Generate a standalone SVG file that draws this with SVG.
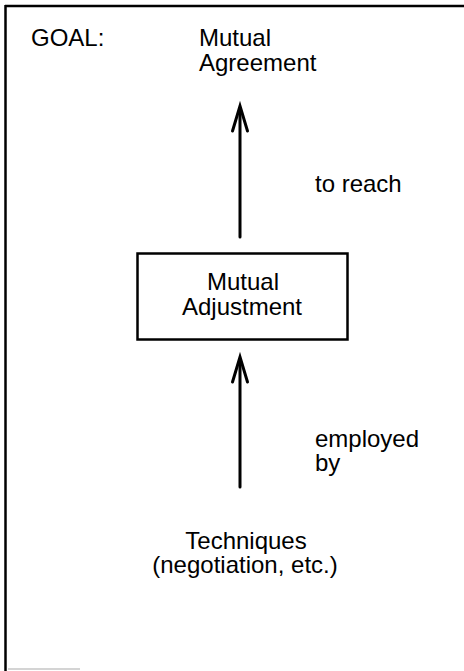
<svg xmlns="http://www.w3.org/2000/svg" width="464" height="671" viewBox="0 0 464 671">
<style>
text{font-family:"Liberation Sans",Arial,sans-serif;font-size:24px;fill:#000}
.c{text-anchor:middle}
.frame{stroke:#000;stroke-width:2.5;fill:none}
.conn{stroke:#000;stroke-width:3;fill:none;stroke-linecap:round}
.head{stroke:#000;stroke-width:3;fill:none;stroke-linejoin:miter;stroke-linecap:round}
</style>
<rect width="464" height="671" fill="#fff"/>
<g id="frame">
<line class="frame" x1="5" y1="6" x2="464" y2="6"/>
<line class="frame" x1="5.5" y1="5" x2="5.5" y2="671"/>
<line x1="8" y1="669" x2="80" y2="669" stroke="#aaa" stroke-width="1.2"/>
</g>
<g id="goal-label"><text x="31" y="46">GOAL:</text></g>
<g id="mutual-agreement">
<text x="199" y="46">Mutual</text>
<text x="199" y="71">Agreement</text>
</g>
<g id="mutual-adjustment">
<rect x="137.5" y="253.5" width="210" height="86" fill="#fff" stroke="#000" stroke-width="2.5"/>
<text class="c" x="243" y="290">Mutual</text>
<text class="c" x="242" y="315">Adjustment</text>
</g>
<g id="techniques">
<text class="c" x="246" y="549">Techniques</text>
<text class="c" x="245" y="573">(negotiation, etc.)</text>
</g>
<g id="connectors">
<line class="conn" x1="240" y1="237" x2="240" y2="108"/>
<polyline class="head" points="232.5,131 240,106 247.5,131"/>
<text x="315" y="192">to reach</text>
<line class="conn" x1="240" y1="487" x2="240" y2="360"/>
<polyline class="head" points="232.5,382 240,357 247.5,382"/>
<text x="315" y="447">employed</text>
<text x="315" y="471">by</text>
</g>
</svg>
